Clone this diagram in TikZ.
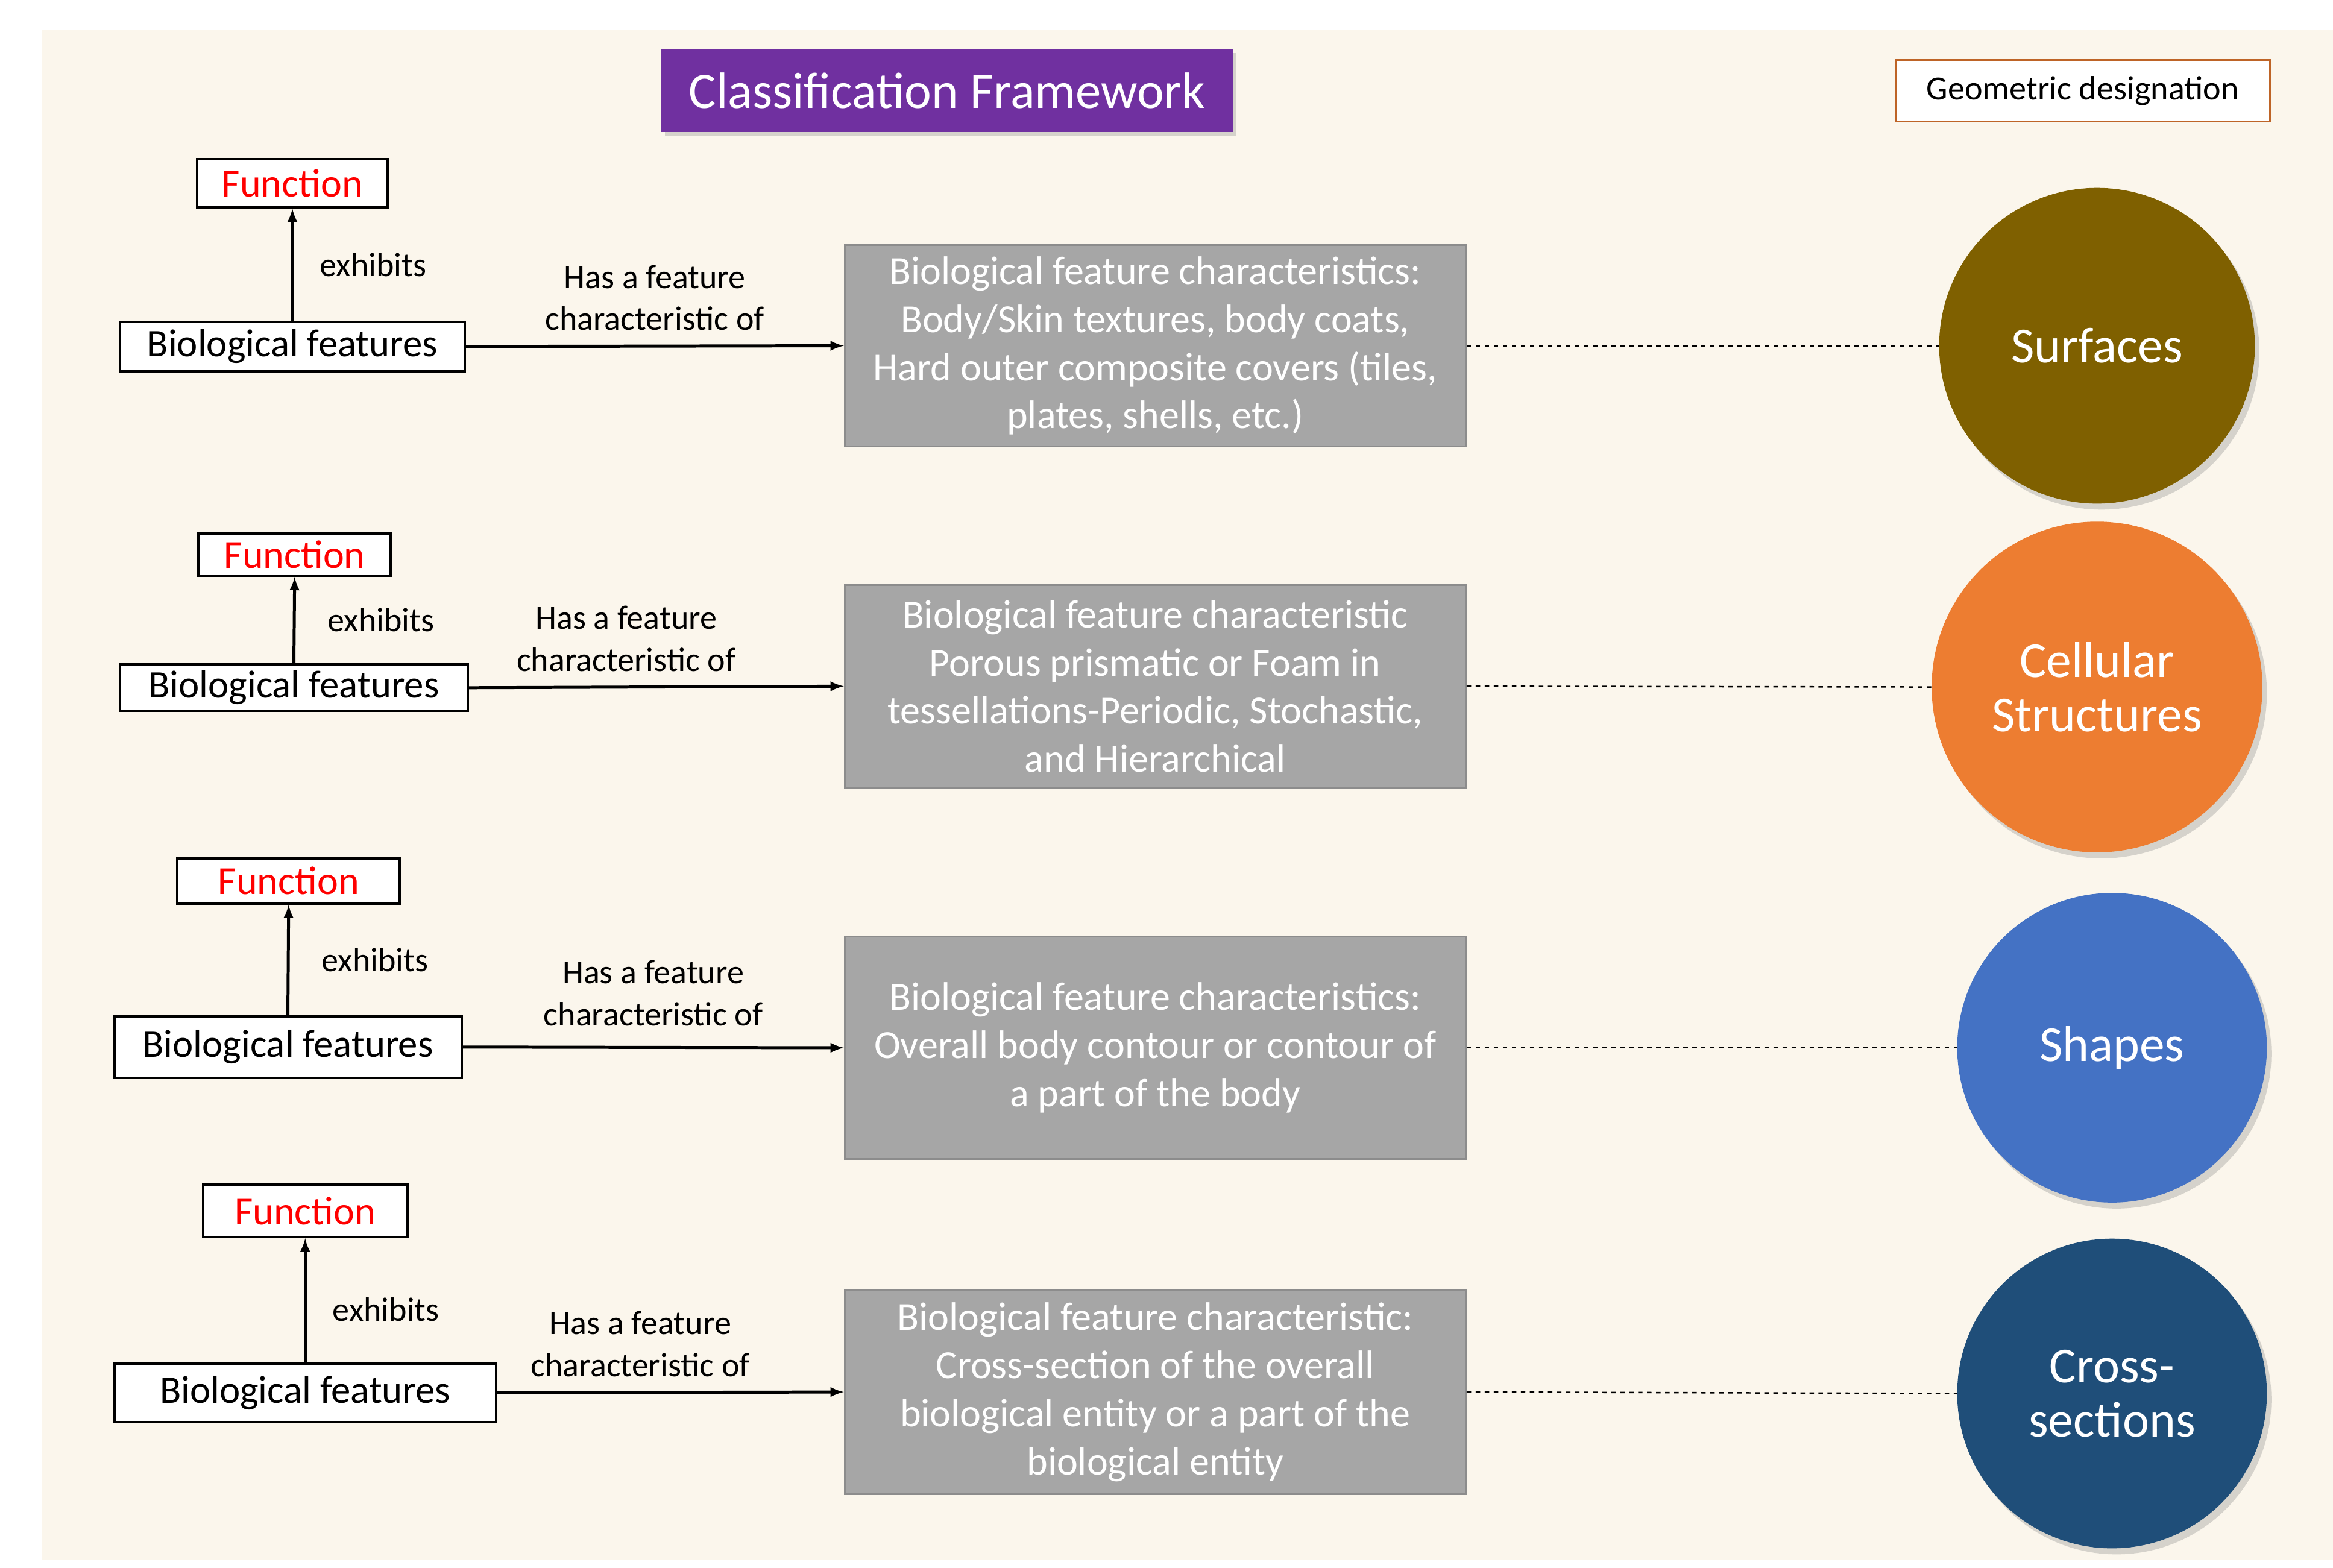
\documentclass[tikz,border=0pt]{standalone}
\usepackage{fontspec}
\setmainfont{Carlito}
\usetikzlibrary{shadows}
\definecolor{bg}{HTML}{FBF6EC}
\definecolor{ttl}{HTML}{7030A0}
\definecolor{gbox}{HTML}{A6A6A6}
\definecolor{c1}{HTML}{7F6000}
\definecolor{c2}{HTML}{ED7D31}
\definecolor{c3}{HTML}{4472C4}
\definecolor{c4}{HTML}{1F4E79}
\begin{document}
\begin{tikzpicture}[x=1pt,y=-1pt,
  func/.style={draw=black,fill=white,line width=1.6pt,text=red,font=\fontsize{26.5}{30}\selectfont,inner sep=0pt},
  bio/.style={draw=black,fill=white,line width=1.6pt,font=\fontsize{26}{30}\selectfont,inner sep=0pt},
  gray/.style={draw=black!45,fill=gbox,line width=1.4pt,text=white,align=center,font=\fontsize{26.5}{32}\selectfont,inner sep=0pt},
  circ/.style={circle,text=white,align=center,font=\fontsize{33.5}{36}\selectfont,drop shadow={opacity=0.3,shadow xshift=3pt,shadow yshift=-4pt}},
  lbl/.style={align=center,font=\fontsize{22.5}{28}\selectfont},
  arr/.style={-latex,line width=2pt},
  dline/.style={dashed,line width=1pt}]
\useasboundingbox (0,0) rectangle (1552,1043);
\fill[bg] (28,20) rectangle (1552,1038);
\node[fill=ttl,text=white,minimum width=380pt,minimum height=55pt,font=\fontsize{34}{38}\selectfont,drop shadow={opacity=0.3}] (title) at (630,60.5) {Classification Framework};
\node[draw=c2!80!black,fill=white,line width=1.2pt,minimum width=249pt,minimum height=41pt,font=\fontsize{22.5}{26}\selectfont] (geo) at (1385.5,60.5) {Geometric designation};
% row 1
\node[func,minimum width=127pt,minimum height=32pt] (f1) at (194.5,122) {Function};
\node[bio,minimum width=229pt,minimum height=33pt] (b1) at (194.5,230.5) {Biological features};
\node[gray,minimum width=413pt,minimum height=134pt] (g1) at (768.5,230) {Biological feature characteristics:\\Body/Skin textures, body coats,\\Hard outer composite covers (tiles,\\plates, shells, etc.)};
\node[circ,fill=c1,minimum size=210pt] (s1) at (1395,230) {Surfaces};
\draw[arr] (b1.north) -- (f1.south) node[midway,right=14pt,lbl]{exhibits};
\draw[arr] (b1.east) -- (g1.west) node[midway,above=6pt,lbl]{Has a feature\\characteristic of};
\draw[dline] (g1.east) -- (s1.west);
% row 2
\node[func,minimum width=128pt,minimum height=28pt] (f2) at (196,369) {Function};
\node[bio,minimum width=231pt,minimum height=31pt] (b2) at (195.5,457.5) {Biological features};
\node[gray,minimum width=413pt,minimum height=135pt] (g2) at (768.5,456.5) {Biological feature characteristic\\Porous prismatic or Foam in\\tessellations-Periodic, Stochastic,\\and Hierarchical};
\node[circ,fill=c2,minimum size=220pt] (s2) at (1395,457) {Cellular\\Structures};
\draw[arr] (b2.north) -- (f2.south) node[midway,right=18pt,lbl]{exhibits};
\draw[arr] (b2.east) -- (g2.west) node[midway,above=6pt,xshift=-20pt,lbl]{Has a feature\\characteristic of};
\draw[dline] (g2.east) -- (s2.west);
% row 3
\node[func,minimum width=148pt,minimum height=30pt] (f3) at (192,586) {Function};
\node[bio,minimum width=231pt,minimum height=41pt] (b3) at (191.5,696.5) {Biological features};
\node[gray,minimum width=413pt,minimum height=148pt] (g3) at (768.5,697) {Biological feature characteristics:\\Overall body contour or contour of\\a part of the body};
\node[circ,fill=c3,minimum size=206pt] (s3) at (1405,697) {Shapes};
\draw[arr] (b3.north) -- (f3.south) node[midway,right=18pt,lbl]{exhibits};
\draw[arr] (b3.east) -- (g3.west) node[midway,above=10pt,lbl]{Has a feature\\characteristic of};
\draw[dline] (g3.east) -- (s3.west);
% row 4
\node[func,minimum width=136pt,minimum height=35pt] (f4) at (203,805.5) {Function};
\node[bio,minimum width=254pt,minimum height=39pt] (b4) at (203,926.5) {Biological features};
\node[gray,minimum width=413pt,minimum height=136pt] (g4) at (768.5,926) {Biological feature characteristic:\\Cross-section of the overall\\biological entity or a part of the\\biological entity};
\node[circ,fill=c4,minimum size=206pt] (s4) at (1405,927) {Cross-\\sections};
\draw[arr] (b4.north) -- (f4.south) node[midway,right=14pt,yshift=-6pt,lbl]{exhibits};
\draw[arr] (b4.east) -- (g4.west) node[midway,above=6pt,xshift=-20pt,lbl]{Has a feature\\characteristic of};
\draw[dline] (g4.east) -- (s4.west);
\end{tikzpicture}
\end{document}
